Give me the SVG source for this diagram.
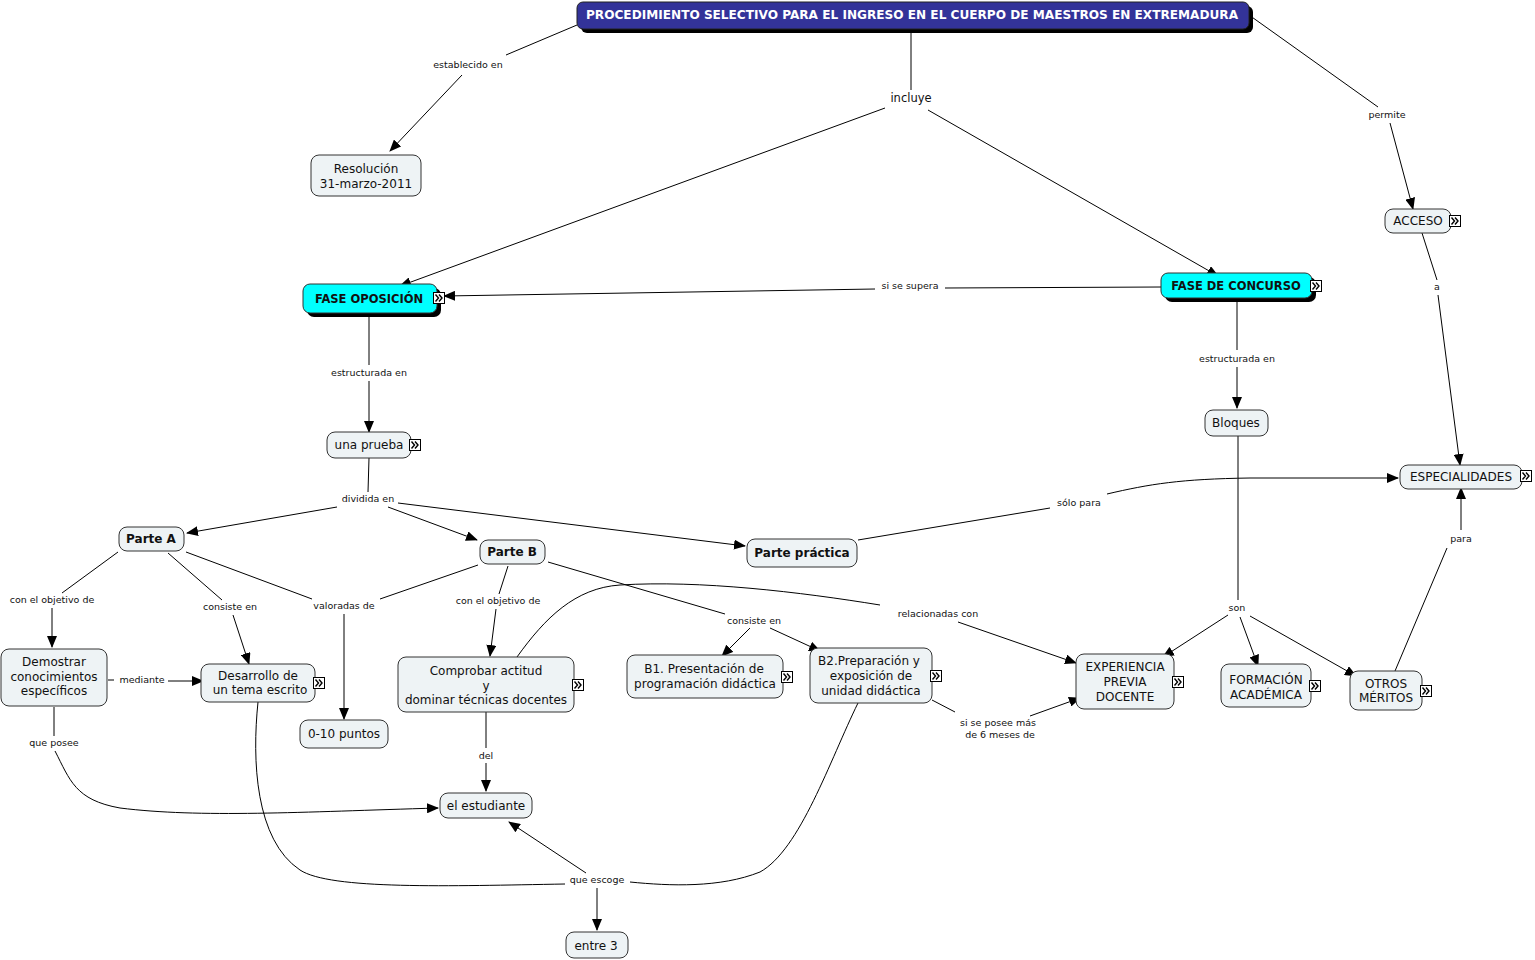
<svg xmlns="http://www.w3.org/2000/svg" xmlns:xlink="http://www.w3.org/1999/xlink" width="1535" height="960" viewBox="0 0 1535 960">
<style>
.n{fill:#eef3f5;stroke:#333;stroke-width:1}
.t{font-family:"DejaVu Sans",Verdana,sans-serif;font-size:12px;fill:#111;text-anchor:middle}
.b{font-weight:bold}
.l{font-family:"DejaVu Sans",Verdana,sans-serif;font-size:9.5px;fill:#111;text-anchor:middle}
.c path,.c line{fill:none;stroke:#000;stroke-width:1}
.sh{fill:#000}
</style>
<defs>
<marker id="a" markerUnits="userSpaceOnUse" markerWidth="12" markerHeight="10" refX="11" refY="5" orient="auto">
<path d="M0,0 L12,5 L0,10 Z" fill="#000"/>
</marker>
<symbol id="ic" viewBox="0 0 12 12" overflow="visible">
<rect x="0.5" y="0.5" width="11" height="11" fill="#fff" stroke="#000"/>
<path d="M2.5,2.5 L5.5,6 L2.5,9.5 M6,2.5 L9,6 L6,9.5" fill="none" stroke="#000" stroke-width="1.4"/>
</symbol>
</defs>
<rect width="1535" height="960" fill="#fff"/>
<g class="c">
<line x1="577" y1="25" x2="506" y2="55"/>
<line x1="462" y1="75" x2="390" y2="151" marker-end="url(#a)"/>
<line x1="911" y1="30" x2="911" y2="90"/>
<line x1="885" y1="108" x2="400" y2="286" marker-end="url(#a)"/>
<line x1="928" y1="110" x2="1218" y2="276" marker-end="url(#a)"/>
<line x1="1249" y1="15" x2="1378" y2="107"/>
<line x1="1390" y1="123" x2="1413" y2="209" marker-end="url(#a)"/>
<line x1="1422" y1="233" x2="1437" y2="280"/>
<line x1="1438" y1="295" x2="1460" y2="465" marker-end="url(#a)"/>
<line x1="1161" y1="287" x2="945" y2="288"/>
<line x1="875" y1="289" x2="444" y2="296" marker-end="url(#a)"/>
<line x1="369" y1="313" x2="369" y2="365"/>
<line x1="369" y1="381" x2="369" y2="432" marker-end="url(#a)"/>
<line x1="1237" y1="298" x2="1237" y2="350"/>
<line x1="1237" y1="367" x2="1237" y2="408" marker-end="url(#a)"/>
<line x1="369" y1="458" x2="368" y2="492"/>
<line x1="337" y1="507" x2="187" y2="533" marker-end="url(#a)"/>
<line x1="388" y1="507" x2="477" y2="540" marker-end="url(#a)"/>
<line x1="398" y1="503" x2="745" y2="546" marker-end="url(#a)"/>
<line x1="858" y1="540" x2="1050" y2="508"/>
<path d="M1107,494 C1150,484 1180,479 1250,478 L1398,478" marker-end="url(#a)"/>
<line x1="1395" y1="671" x2="1447" y2="548"/>
<line x1="1461" y1="530" x2="1461" y2="488" marker-end="url(#a)"/>
<line x1="1238" y1="436" x2="1238" y2="600"/>
<line x1="1228" y1="615" x2="1163" y2="657" marker-end="url(#a)"/>
<line x1="1240" y1="617" x2="1258" y2="666" marker-end="url(#a)"/>
<line x1="1250" y1="616" x2="1356" y2="676" marker-end="url(#a)"/>
<line x1="118" y1="552" x2="62" y2="593"/>
<line x1="52" y1="608" x2="52" y2="647" marker-end="url(#a)"/>
<line x1="168" y1="553" x2="222" y2="600"/>
<line x1="233" y1="615" x2="249" y2="664" marker-end="url(#a)"/>
<line x1="186" y1="552" x2="312" y2="599"/>
<line x1="478" y1="565" x2="380" y2="599"/>
<line x1="344" y1="614" x2="344" y2="719" marker-end="url(#a)"/>
<line x1="508" y1="566" x2="499" y2="594"/>
<line x1="496" y1="609" x2="490" y2="656" marker-end="url(#a)"/>
<line x1="548" y1="562" x2="725" y2="614"/>
<line x1="750" y1="628" x2="722" y2="656" marker-end="url(#a)"/>
<line x1="770" y1="628" x2="820" y2="651" marker-end="url(#a)"/>
<path d="M517,657 C545,618 575,588 620,585 C700,580 800,592 880,605"/>
<line x1="958" y1="622" x2="1076" y2="663" marker-end="url(#a)"/>
<line x1="108" y1="680" x2="114" y2="680"/>
<line x1="168" y1="681" x2="203" y2="681" marker-end="url(#a)"/>
<line x1="54" y1="707" x2="54" y2="736"/>
<path d="M55,751 C70,780 75,800 120,808 C200,818 300,812 438,808" marker-end="url(#a)"/>
<line x1="486" y1="712" x2="486" y2="748"/>
<line x1="486" y1="763" x2="486" y2="791" marker-end="url(#a)"/>
<line x1="932" y1="700" x2="955" y2="712"/>
<line x1="1030" y1="716" x2="1080" y2="698" marker-end="url(#a)"/>
<path d="M258,702 C252,760 255,840 300,870 C330,890 450,886 565,884"/>
<path d="M858,703 C830,760 800,850 760,872 C720,888 670,886 630,882"/>
<line x1="586" y1="873" x2="509" y2="822" marker-end="url(#a)"/>
<line x1="597" y1="888" x2="597" y2="930" marker-end="url(#a)"/>
</g>
<g id="lbls">
<text class="l" x="468" y="68">establecido en</text>
<text class="t" x="911" y="102" style="font-size:11.5px">incluye</text>
<text class="l" x="1387" y="118">permite</text>
<text class="l" x="910" y="289">si se supera</text>
<text class="l" x="1437" y="290">a</text>
<text class="l" x="369" y="376">estructurada en</text>
<text class="l" x="1237" y="362">estructurada en</text>
<text class="l" x="368" y="502">dividida en</text>
<text class="l" x="1079" y="506">sólo para</text>
<text class="l" x="1461" y="542">para</text>
<text class="l" x="52" y="603">con el objetivo de</text>
<text class="l" x="230" y="610">consiste en</text>
<text class="l" x="344" y="609">valoradas de</text>
<text class="l" x="498" y="604">con el objetivo de</text>
<text class="l" x="938" y="617">relacionadas con</text>
<text class="l" x="754" y="624">consiste en</text>
<text class="l" x="1237" y="611">son</text>
<text class="l" x="142" y="683">mediante</text>
<text class="l" x="54" y="746">que posee</text>
<text class="l" x="486" y="759">del</text>
<text class="l" x="998" y="726">si se posee más</text>
<text class="l" x="1000" y="738">de 6 meses de</text>
<text class="l" x="597" y="883">que escoge</text>
</g>
<g id="title">
<rect class="sh" x="581" y="6" width="672" height="27" rx="6"/>
<rect x="577" y="2" width="672" height="27" rx="6" fill="#333399" stroke="#222" stroke-width="1"/>
<text class="t b" x="912" y="19" style="fill:#fff;font-size:12px" textLength="652" lengthAdjust="spacingAndGlyphs">PROCEDIMIENTO SELECTIVO PARA EL INGRESO EN EL CUERPO DE MAESTROS EN EXTREMADURA</text>
</g>
<g id="resolucion">
<rect class="n" x="311" y="155" width="110" height="41" rx="8"/>
<text class="t" x="366" y="173">Resolución</text>
<text class="t" x="366" y="188">31-marzo-2011</text>
</g>
<g id="fase-oposicion">
<rect class="sh" x="307" y="288" width="134" height="29" rx="7"/>
<rect x="303" y="284" width="134" height="29" rx="7" fill="#00ffff" stroke="#333"/>
<text class="t b" x="369" y="303" style="font-size:11.5px">FASE OPOSICIÓN</text>
<use xlink:href="#ic" x="433" y="292" width="12" height="12"/>
</g>
<g id="fase-concurso">
<rect class="sh" x="1165" y="277" width="151" height="25" rx="7"/>
<rect x="1161" y="273" width="151" height="25" rx="7" fill="#00ffff" stroke="#333"/>
<text class="t b" x="1236" y="290" style="font-size:11.5px">FASE DE CONCURSO</text>
<use xlink:href="#ic" x="1310" y="280" width="12" height="12"/>
</g>
<g id="acceso">
<rect class="n" x="1385" y="209" width="66" height="24" rx="8"/>
<text class="t" x="1418" y="225">ACCESO</text>
<use xlink:href="#ic" x="1449" y="215" width="12" height="12"/>
</g>
<g id="una-prueba">
<rect class="n" x="327" y="432" width="84" height="26" rx="8"/>
<text class="t" x="369" y="449">una prueba</text>
<use xlink:href="#ic" x="409" y="439" width="12" height="12"/>
</g>
<g id="bloques">
<rect class="n" x="1205" y="410" width="63" height="26" rx="8"/>
<text class="t" x="1236" y="427">Bloques</text>
</g>
<g id="especialidades">
<rect class="n" x="1400" y="465" width="122" height="24" rx="8"/>
<text class="t" x="1461" y="481">ESPECIALIDADES</text>
<use xlink:href="#ic" x="1520" y="470" width="12" height="12"/>
</g>
<g id="parte-a">
<rect class="n" x="119" y="527" width="65" height="24" rx="8"/>
<text class="t b" x="151" y="543">Parte A</text>
</g>
<g id="parte-b">
<rect class="n" x="480" y="540" width="65" height="24" rx="8"/>
<text class="t b" x="512" y="556">Parte B</text>
</g>
<g id="parte-practica">
<rect class="n" x="747" y="539" width="110" height="28" rx="8"/>
<text class="t b" x="802" y="557">Parte práctica</text>
</g>
<g id="demostrar">
<rect class="n" x="1" y="649" width="106" height="57" rx="8"/>
<text class="t" x="54" y="666">Demostrar</text>
<text class="t" x="54" y="681">conocimientos</text>
<text class="t" x="54" y="695">específicos</text>
</g>
<g id="desarrollo">
<rect class="n" x="201" y="664" width="114" height="38" rx="8"/>
<text class="t" x="258" y="680">Desarrollo de</text>
<text class="t" x="260" y="694">un tema escrito</text>
<use xlink:href="#ic" x="313" y="677" width="12" height="12"/>
</g>
<g id="puntos">
<rect class="n" x="300" y="720" width="88" height="28" rx="8"/>
<text class="t" x="344" y="738">0-10 puntos</text>
</g>
<g id="comprobar">
<rect class="n" x="398" y="657" width="176" height="55" rx="8"/>
<text class="t" x="486" y="675">Comprobar actitud</text>
<text class="t" x="486" y="690">y</text>
<text class="t" x="486" y="704">dominar técnicas docentes</text>
<use xlink:href="#ic" x="572" y="679" width="12" height="12"/>
</g>
<g id="b1">
<rect class="n" x="627" y="655" width="156" height="43" rx="8"/>
<text class="t" x="704" y="673">B1. Presentación de</text>
<text class="t" x="705" y="688">programación didáctica</text>
<use xlink:href="#ic" x="781" y="671" width="12" height="12"/>
</g>
<g id="b2">
<rect class="n" x="810" y="648" width="122" height="55" rx="8"/>
<text class="t" x="869" y="665">B2.Preparación y</text>
<text class="t" x="871" y="680">exposición de</text>
<text class="t" x="871" y="695">unidad didáctica</text>
<use xlink:href="#ic" x="930" y="670" width="12" height="12"/>
</g>
<g id="experiencia">
<rect class="n" x="1076" y="654" width="98" height="55" rx="8"/>
<text class="t" x="1125" y="671">EXPERIENCIA</text>
<text class="t" x="1125" y="686">PREVIA</text>
<text class="t" x="1125" y="701">DOCENTE</text>
<use xlink:href="#ic" x="1172" y="676" width="12" height="12"/>
</g>
<g id="formacion">
<rect class="n" x="1221" y="664" width="90" height="43" rx="8"/>
<text class="t" x="1266" y="684">FORMACIÓN</text>
<text class="t" x="1266" y="699">ACADÉMICA</text>
<use xlink:href="#ic" x="1309" y="680" width="12" height="12"/>
</g>
<g id="otros">
<rect class="n" x="1350" y="671" width="72" height="39" rx="8"/>
<text class="t" x="1386" y="688">OTROS</text>
<text class="t" x="1386" y="702">MÉRITOS</text>
<use xlink:href="#ic" x="1420" y="685" width="12" height="12"/>
</g>
<g id="estudiante">
<rect class="n" x="440" y="793" width="92" height="25" rx="8"/>
<text class="t" x="486" y="810">el estudiante</text>
</g>
<g id="entre3">
<rect class="n" x="566" y="932" width="62" height="26" rx="8"/>
<text class="t" x="596" y="950">entre 3</text>
</g>
</svg>
